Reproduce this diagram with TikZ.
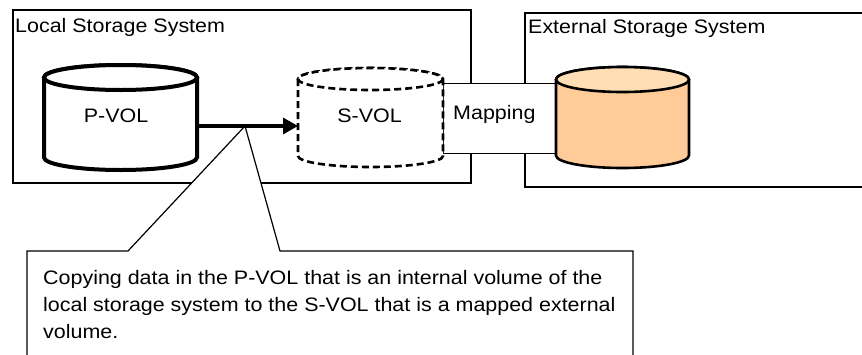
\documentclass[tikz,border=0pt]{standalone}
\usepackage{fontspec}
\setmainfont{Liberation Sans}[FakeStretch=1.1]
\usetikzlibrary{arrows.meta}
\definecolor{extbody}{HTML}{FFCC99}
\definecolor{exttop}{HTML}{FFDDB5}
\newcommand\mycyl[7]{%
  \path[#1] ({#3-#6},{#4+#7}) -- ({#3-#6},{#5-#7})
     arc[start angle=180,end angle=0,x radius=#6,y radius=#7]
     -- ({#3+#6},{#4+#7})
     arc[start angle=0,end angle=-180,x radius=#6,y radius=#7] -- cycle;
  \path[#1,fill=#2] (#3,{#4+#7}) ellipse[x radius=#6,y radius=#7];
}
\tikzset{
  lbl/.style={font=\fontsize{19.5}{27}\selectfont, inner sep=0pt},
  sysbox/.style={draw, line width=1.4pt},
  mapbox/.style={draw, fill=white, line width=1pt},
  callout/.style={draw, fill=white, line width=1.2pt},
  pvolstyle/.style={draw, fill=white, line width=4pt},
  svolstyle/.style={draw, fill=white, line width=2.6pt, dash pattern=on 7pt off 4pt},
  extstyle/.style={draw, fill=extbody, line width=2.6pt},
  holder/.style={inner sep=0pt, outer sep=0pt},
  copyarrow/.style={line width=3.2pt, -{Triangle[length=15pt,width=16pt]}}
}
\begin{document}
\begin{tikzpicture}[x=1pt,y=-1pt]
\useasboundingbox (0,0) rectangle (862,354);
% system boxes
\node[holder, sysbox, minimum width=458pt, minimum height=173pt, anchor=north west] (local) at (13,10) {};
\node[holder, sysbox, minimum width=400pt, minimum height=174pt, anchor=north west] (external) at (525,13) {};
% mapping band
\node[holder, mapbox, minimum width=113pt, minimum height=70pt, anchor=north west] (mapping) at (443,83) {};
% callout
\coordinate (tip) at (245,126);
\path[callout] (27,370) -- (27,251) -- (128,251) -- (tip) -- (280,251) -- (633,251) -- (633,370) -- cycle;
% cylinders
\mycyl{pvolstyle}{white}{120.5}{65}{170}{76.5}{12.5}
\mycyl{svolstyle}{white}{370.5}{68}{167}{72.5}{11}
\mycyl{extstyle}{exttop}{622.5}{67}{168}{66.5}{12.5}
\node[holder, minimum width=153pt, minimum height=105pt] (pvol) at (120.5,117.5) {};
\node[holder, minimum width=145pt, minimum height=99pt] (svol) at (370.5,117.5) {};
\node[holder, minimum width=133pt, minimum height=101pt] (ext) at (622.5,117.5) {};
% copy arrow
\draw[copyarrow] (pvol.east |- tip) -- (svol.west |- tip);
% texts
\node[lbl, anchor=base west] (localtxt) at (15,32) {Local Storage System};
\node[lbl, anchor=base west] (exttxt) at (528,33) {External Storage System};
\node[lbl, anchor=base] (pvoltxt) at (116,122) {P-VOL};
\node[lbl, anchor=base] (svoltxt) at (369.5,122) {S-VOL};
\node[lbl, anchor=base west] (maptxt) at (453,119.5) {Mapping};
\node[lbl, anchor=north west, align=left] (note) at (43,270.5)
  {Copying data in the P-VOL that is an internal volume of the\\
   local storage system to the S-VOL that is a mapped external\\
   volume.};
\end{tikzpicture}
\end{document}
